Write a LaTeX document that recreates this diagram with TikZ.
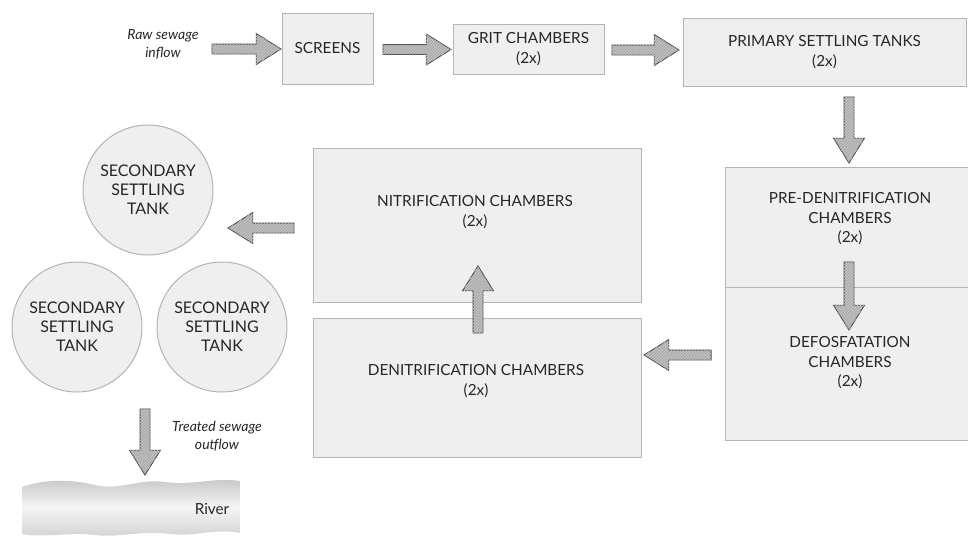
\documentclass[tikz,border=0pt]{standalone}
\usepackage{fontspec}
\setmainfont{Lato}
\usetikzlibrary{shapes.arrows,shapes.geometric,patterns}
\definecolor{boxfill}{HTML}{EFEFEF}
\definecolor{boxline}{HTML}{B4B4B4}
\definecolor{arrfill}{HTML}{ADADAD}
\definecolor{arrline}{HTML}{4A4A4A}
\tikzset{
  boxfont/.style={font=\fontsize{15.3}{19.5}\selectfont, text=black!85},
  stagebox/.style={draw=boxline, fill=boxfill, line width=1pt, align=center, boxfont},
  tankcircle/.style={circle, draw=boxline, fill=boxfill, line width=1pt, minimum size=130pt, inner sep=0pt, align=center, font=\fontsize{16}{19}\selectfont, text=black!85},
  blockarrow/.style={single arrow, draw=arrline, fill=arrfill, line width=0.9pt, inner sep=4.5pt, single arrow head extend=10.5pt, single arrow tip angle=64, single arrow head indent=0pt, minimum height=#1, postaction={pattern=north east lines, pattern color=black!22}},
  notelabel/.style={align=center, font=\fontsize{14}{18}\selectfont\itshape, text=black!85},
}
\begin{document}
\begin{tikzpicture}[x=1pt,y=-1pt]
\path[use as bounding box] (0,0) rectangle (968,536);
% boxes
\node[stagebox, minimum width=91pt, minimum height=71pt] (screens) at (327.5,48.5) {SCREENS};
\node[stagebox, minimum width=151pt, minimum height=50pt] (grit) at (528.5,49) {GRIT CHAMBERS\\(2x)};
\node[stagebox, minimum width=283pt, minimum height=68pt] (primary) at (824.5,52) {PRIMARY SETTLING TANKS\\(2x)};
\node[stagebox, minimum width=244pt, minimum height=120pt] (preden) at (847,227) {};
\node[align=center, boxfont] (predentext) at (850,219) {PRE-DENITRIFICATION\\CHAMBERS\\(2x)};
\node[stagebox, minimum width=244pt, minimum height=153pt] (defos) at (847,363.5) {};
\node[align=center, boxfont] (defostext) at (850,363) {DEFOSFATATION\\CHAMBERS\\(2x)};
\node[stagebox, minimum width=328pt, minimum height=154pt] (nitri) at (477,225) {};
\node[align=center, boxfont] (nitritext) at (475,212) {NITRIFICATION CHAMBERS\\(2x)};
\node[stagebox, minimum width=328pt, minimum height=139pt] (denitri) at (477,387.5) {};
\node[align=center, boxfont] (denitritext) at (476,381) {DENITRIFICATION CHAMBERS\\(2x)};
% tanks
\node[tankcircle] (tank1) at (148,190) {SECONDARY\\SETTLING\\TANK};
\node[tankcircle] (tank2) at (77,327) {SECONDARY\\SETTLING\\TANK};
\node[tankcircle] (tank3) at (222,327) {SECONDARY\\SETTLING\\TANK};
% labels
\node[notelabel] (rawlabel) at (163,44) {Raw sewage\\inflow};
\node[notelabel] (treatlabel) at (217,436) {Treated sewage\\outflow};
% block arrows
\node[blockarrow=69pt] (a1) at (242.5,49) {};
\node[blockarrow=68pt] (a2) at (413,49.5) {};
\node[blockarrow=67pt] (a3) at (641.5,50) {};
\node[blockarrow=66pt, shape border rotate=270] (a4) at (849,126) {};
\node[blockarrow=68pt, shape border rotate=270] (a5) at (849,292) {};
\node[blockarrow=67pt, shape border rotate=180] (a6) at (681.5,355) {};
\node[blockarrow=67pt, shape border rotate=90] (a7) at (478,303.5) {};
\node[blockarrow=66pt, shape border rotate=180] (a8) at (265,228) {};
\node[blockarrow=66pt, shape border rotate=270] (a9) at (145,438) {};
% river
\shade[top color=gray!45, bottom color=gray!35, middle color=gray!8]
  (22,487) .. controls (45,479) and (70,479) .. (95,485)
  .. controls (120,491) and (140,478) .. (165,482)
  .. controls (190,486) and (215,477) .. (240,481)
  -- (240,533) .. controls (215,528) and (195,537) .. (170,534)
  .. controls (140,530) and (120,538) .. (95,535)
  .. controls (70,532) and (45,538) .. (22,534) -- cycle;
\node[font=\fontsize{15.3}{16}\selectfont, text=black!85] (river) at (212,509) {River};
\end{tikzpicture}
\end{document}
